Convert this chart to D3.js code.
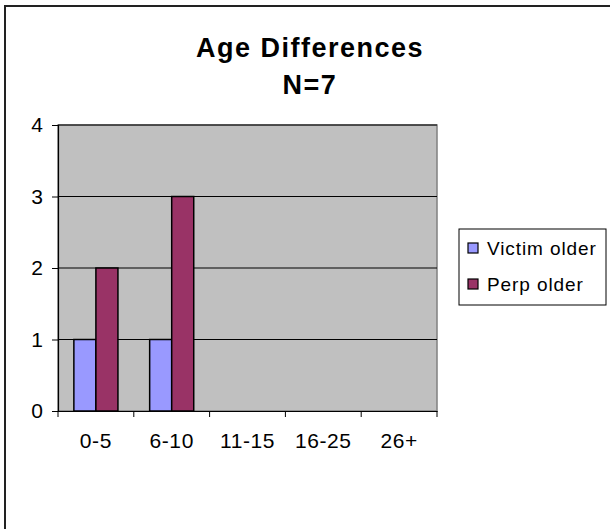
<!DOCTYPE html>
<html><head><meta charset="utf-8">
<script src="https://cdn.jsdelivr.net/npm/d3@7"></script>
<style>body{margin:0;background:#fff}svg{display:block;font-family:"Liberation Sans",Arial,sans-serif}</style>
</head><body><svg id="c" width="610" height="529"></svg>
<script>
const categories = ["0-5","6-10","11-15","16-25","26+"];
const victimOlder = [1,1,0,0,0];
const perpOlder = [2,3,0,0,0];
const seriesNames = ["Victim older","Perp older"];
const yTicks = [0,1,2,3,4];
const titleLines = ["Age Differences","N=7"];

const colors = ["#9999FF","#993366"];
const svg = d3.select("#c");
svg.append("rect").attr("x",5).attr("y",6).attr("width",620).attr("height",540)
  .attr("fill","#fff").attr("stroke","#222").attr("stroke-width",2);

const L=58,R=437,T=125,B=411;
const x = d3.scaleBand().domain(categories).range([L,R]).paddingInner(0).paddingOuter(0);
const xs = d3.scaleBand().domain([0,1]).range([0,x.bandwidth()]).paddingInner(0).paddingOuter(0.72);
const y = d3.scaleLinear().domain([0,4]).range([B,T]);

svg.append("rect").attr("x",L).attr("y",T).attr("width",R-L).attr("height",B-T)
  .attr("fill","#C0C0C0").attr("stroke","#808080").attr("stroke-width",1.5);

svg.append("g").selectAll("line").data(yTicks.filter(d=>d>0)).join("line")
  .attr("x1",L).attr("x2",R).attr("y1",d=>y(d)).attr("y2",d=>y(d))
  .attr("stroke","#000").attr("stroke-width",1);

const series=[victimOlder,perpOlder];
const g = svg.append("g");
series.forEach((vals,si)=>{
  g.selectAll(null).data(vals.map((v,i)=>({c:categories[i],v})).filter(d=>d.v>0)).join("rect")
   .attr("x",d=>x(d.c)+xs(si)).attr("width",xs.bandwidth())
   .attr("y",d=>y(d.v)).attr("height",d=>B-y(d.v))
   .attr("fill",colors[si]).attr("stroke","#000").attr("stroke-width",1.5);
});

const yAxis = svg.append("g").attr("transform",`translate(${L},0)`)
  .call(d3.axisLeft(y).tickValues(yTicks).tickFormat(d3.format("d")).tickSize(6).tickPadding(9));
yAxis.select(".domain").attr("stroke","#000").attr("stroke-width",1.2);
yAxis.selectAll("text").attr("font-size",21).attr("fill","#000").attr("font-family","Liberation Sans, Arial, sans-serif");

const xAxis = svg.append("g").attr("transform",`translate(0,${B})`)
  .call(d3.axisBottom(x).tickSize(0).tickPadding(0));
xAxis.select(".domain").attr("stroke","#000").attr("stroke-width",1.2);
xAxis.selectAll("text").attr("font-size",21).attr("fill","#000").attr("y",37).attr("dy",0)
  .attr("letter-spacing",0.6).attr("font-family","Liberation Sans, Arial, sans-serif");
xAxis.append("g").selectAll("line").data(categories.concat(["end"])).join("line")
  .attr("x1",(d,i)=>i<categories.length?x(d):R).attr("x2",(d,i)=>i<categories.length?x(d):R)
  .attr("y1",0).attr("y2",6).attr("stroke","#000");

svg.append("g").selectAll("text").data(titleLines).join("text")
  .attr("x",310).attr("y",(d,i)=>57+i*37).attr("text-anchor","middle")
  .attr("font-size",27).attr("font-weight","bold").attr("letter-spacing",1.5).text(d=>d);

const lg = svg.append("g").attr("transform","translate(459,229)");
lg.append("rect").attr("width",147).attr("height",76).attr("fill","#fff").attr("stroke","#000").attr("stroke-width",1);
const li = lg.selectAll("g").data(seriesNames).join("g").attr("transform",(d,i)=>`translate(0,${19+i*36})`);
li.append("rect").attr("x",9).attr("y",-5).attr("width",10).attr("height",10)
  .attr("fill",(d,i)=>colors[i]).attr("stroke","#000").attr("stroke-width",1.2);
li.append("text").attr("x",28).attr("y",7).attr("font-size",19).attr("letter-spacing",0.9).text(d=>d);
</script></body></html>
